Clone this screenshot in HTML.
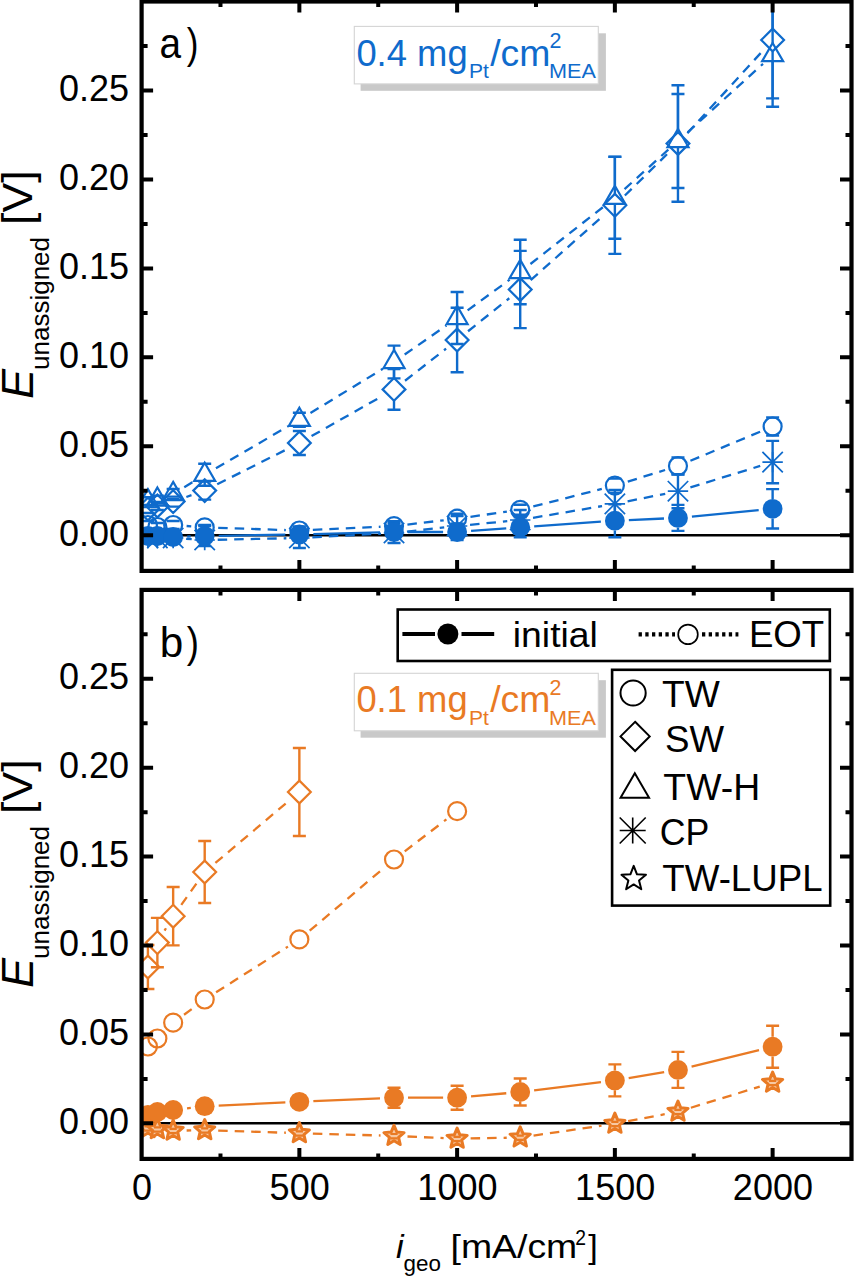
<!DOCTYPE html><html><head><meta charset="utf-8"><style>html,body{margin:0;padding:0;background:#fff;overflow:hidden;}svg{display:block;}text{font-family:"Liberation Sans",sans-serif;}.tl{font-size:36px;fill:#000;}</style></head><body>
<svg width="855" height="1280" viewBox="0 0 855 1280">
<rect width="855" height="1280" fill="#fff"/>
<g>
<clipPath id="ca"><rect x="141.6" y="1.5" width="709.9" height="569.4"/></clipPath>
<g clip-path="url(#ca)">
<path d="M141.6 535.31L851.5 535.31" stroke="#000" stroke-width="2.5"/>
<path d="M186.37 496.99L191.48 495.21M217.21 484.31L286.85 449.29M311.54 436.1L381.83 396.3M405.03 380.77L446.09 348.63M468.04 331.25L509.28 298.25M530.67 280.19L604.41 214.61M624.87 195.5L667.97 153.3M687.42 133.17L763.17 50.33" fill="none" stroke="#0f6bcc" stroke-width="2.3" stroke-dasharray="9.5 7"/>
<path d="M141.41 505L154.41 505M141.41 513L154.41 513" stroke="#0f6bcc" stroke-width="2.4" fill="none"/>
<path d="M150.88 502L163.88 502M150.88 510L163.88 510" stroke="#0f6bcc" stroke-width="2.4" fill="none"/>
<path d="M166.65 496.6L179.65 496.6M166.65 506.6L179.65 506.6" stroke="#0f6bcc" stroke-width="2.4" fill="none"/>
<path d="M198.2 481.6L211.2 481.6M198.2 499.6L211.2 499.6" stroke="#0f6bcc" stroke-width="2.4" fill="none"/>
<path d="M299.36 431L299.36 431.6M299.36 454.4L299.36 455M292.86 431L305.86 431M292.86 455L305.86 455" stroke="#0f6bcc" stroke-width="2.4" fill="none"/>
<path d="M394.01 369.1L394.01 378M394.01 400.8L394.01 409.7M387.51 369.1L400.51 369.1M387.51 409.7L400.51 409.7" stroke="#0f6bcc" stroke-width="2.4" fill="none"/>
<path d="M457.11 307.7L457.11 328.6M457.11 351.4L457.11 372.3M450.61 307.7L463.61 307.7M450.61 372.3L463.61 372.3" stroke="#0f6bcc" stroke-width="2.4" fill="none"/>
<path d="M520.21 250.9L520.21 278.1M520.21 300.9L520.21 328.1M513.71 250.9L526.71 250.9M513.71 328.1L526.71 328.1" stroke="#0f6bcc" stroke-width="2.4" fill="none"/>
<path d="M614.87 156.7L614.87 193.9M614.87 216.7L614.87 253.9M608.37 156.7L621.37 156.7M608.37 253.9L621.37 253.9" stroke="#0f6bcc" stroke-width="2.4" fill="none"/>
<path d="M677.97 85.2L677.97 132.1M677.97 154.9L677.97 201.8M671.47 85.2L684.47 85.2M671.47 201.8L684.47 201.8" stroke="#0f6bcc" stroke-width="2.4" fill="none"/>
<path d="M772.62 -26.8L772.62 28.6M772.62 51.4L772.62 106.8M766.12 -26.8L779.12 -26.8M766.12 106.8L779.12 106.8" stroke="#0f6bcc" stroke-width="2.4" fill="none"/>
<path d="M147.91 497.6L159.31 509L147.91 520.4L136.51 509Z" fill="none" stroke="#0f6bcc" stroke-width="2.2"/>
<path d="M157.38 494.6L168.78 506L157.38 517.4L145.98 506Z" fill="none" stroke="#0f6bcc" stroke-width="2.2"/>
<path d="M173.15 490.2L184.55 501.6L173.15 513L161.75 501.6Z" fill="none" stroke="#0f6bcc" stroke-width="2.2"/>
<path d="M204.7 479.2L216.1 490.6L204.7 502L193.3 490.6Z" fill="none" stroke="#0f6bcc" stroke-width="2.2"/>
<path d="M299.36 431.6L310.76 443L299.36 454.4L287.96 443Z" fill="none" stroke="#0f6bcc" stroke-width="2.2"/>
<path d="M394.01 378L405.41 389.4L394.01 400.8L382.61 389.4Z" fill="none" stroke="#0f6bcc" stroke-width="2.2"/>
<path d="M457.11 328.6L468.51 340L457.11 351.4L445.71 340Z" fill="none" stroke="#0f6bcc" stroke-width="2.2"/>
<path d="M520.21 278.1L531.61 289.5L520.21 300.9L508.81 289.5Z" fill="none" stroke="#0f6bcc" stroke-width="2.2"/>
<path d="M614.87 193.9L626.27 205.3L614.87 216.7L603.47 205.3Z" fill="none" stroke="#0f6bcc" stroke-width="2.2"/>
<path d="M677.97 132.1L689.37 143.5L677.97 154.9L666.57 143.5Z" fill="none" stroke="#0f6bcc" stroke-width="2.2"/>
<path d="M772.62 28.6L784.02 40L772.62 51.4L761.22 40Z" fill="none" stroke="#0f6bcc" stroke-width="2.2"/>
<path d="M184.26 487.24L193.6 481.56M215.94 468.27L288.12 426.33M310.45 413.02L382.91 368.78M404.67 354.56L446.45 325.44M467.62 310.34L509.71 279.66M530.44 263.98L604.64 205.82M624.53 189.1L668.31 149.7M687.6 132.26L763 63.84" fill="none" stroke="#0f6bcc" stroke-width="2.3" stroke-dasharray="9.5 7"/>
<path d="M141.41 497.2L154.41 497.2M141.41 505.2L154.41 505.2" stroke="#0f6bcc" stroke-width="2.4" fill="none"/>
<path d="M150.88 495.6L163.88 495.6M150.88 503.6L163.88 503.6" stroke="#0f6bcc" stroke-width="2.4" fill="none"/>
<path d="M166.65 489L179.65 489M166.65 499L179.65 499" stroke="#0f6bcc" stroke-width="2.4" fill="none"/>
<path d="M204.7 480.86L204.7 485.8M198.2 463.8L211.2 463.8M198.2 485.8L211.2 485.8" stroke="#0f6bcc" stroke-width="2.4" fill="none"/>
<path d="M299.36 425.86L299.36 426.8M292.86 412.8L305.86 412.8M292.86 426.8L305.86 426.8" stroke="#0f6bcc" stroke-width="2.4" fill="none"/>
<path d="M394.01 345.6L394.01 349.88M394.01 368.06L394.01 378.4M387.51 345.6L400.51 345.6M387.51 378.4L400.51 378.4" stroke="#0f6bcc" stroke-width="2.4" fill="none"/>
<path d="M457.11 292L457.11 305.88M457.11 324.06L457.11 344M450.61 292L463.61 292M450.61 344L463.61 344" stroke="#0f6bcc" stroke-width="2.4" fill="none"/>
<path d="M520.21 239.7L520.21 259.88M520.21 278.06L520.21 304.3M513.71 239.7L526.71 239.7M513.71 304.3L526.71 304.3" stroke="#0f6bcc" stroke-width="2.4" fill="none"/>
<path d="M614.87 156.9L614.87 185.68M614.87 203.86L614.87 238.7M608.37 156.9L621.37 156.9M608.37 238.7L621.37 238.7" stroke="#0f6bcc" stroke-width="2.4" fill="none"/>
<path d="M677.97 94L677.97 128.88M677.97 147.06L677.97 188M671.47 94L684.47 94M671.47 188L684.47 188" stroke="#0f6bcc" stroke-width="2.4" fill="none"/>
<path d="M772.62 -2.9L772.62 42.98M772.62 61.16L772.62 98.4M766.12 -2.9L779.12 -2.9M766.12 98.4L779.12 98.4" stroke="#0f6bcc" stroke-width="2.4" fill="none"/>
<path d="M147.91 489.08L158.41 507.26L137.41 507.26Z" fill="none" stroke="#0f6bcc" stroke-width="2.2"/>
<path d="M157.38 487.48L167.88 505.66L146.88 505.66Z" fill="none" stroke="#0f6bcc" stroke-width="2.2"/>
<path d="M173.15 481.88L183.65 500.06L162.65 500.06Z" fill="none" stroke="#0f6bcc" stroke-width="2.2"/>
<path d="M204.7 462.68L215.2 480.86L194.2 480.86Z" fill="none" stroke="#0f6bcc" stroke-width="2.2"/>
<path d="M299.36 407.68L309.86 425.86L288.86 425.86Z" fill="none" stroke="#0f6bcc" stroke-width="2.2"/>
<path d="M394.01 349.88L404.51 368.06L383.51 368.06Z" fill="none" stroke="#0f6bcc" stroke-width="2.2"/>
<path d="M457.11 305.88L467.61 324.06L446.61 324.06Z" fill="none" stroke="#0f6bcc" stroke-width="2.2"/>
<path d="M520.21 259.88L530.71 278.06L509.71 278.06Z" fill="none" stroke="#0f6bcc" stroke-width="2.2"/>
<path d="M614.87 185.68L625.37 203.86L604.37 203.86Z" fill="none" stroke="#0f6bcc" stroke-width="2.2"/>
<path d="M677.97 128.88L688.47 147.06L667.47 147.06Z" fill="none" stroke="#0f6bcc" stroke-width="2.2"/>
<path d="M772.62 42.98L783.12 61.16L762.12 61.16Z" fill="none" stroke="#0f6bcc" stroke-width="2.2"/>
<path d="M186.61 526.02L191.24 526.38M218.19 527.84L285.86 530.06M312.84 529.87L380.52 526.73M407.42 524.53L443.7 520.27M470.48 516.81L506.85 511.69M533.29 506.46L601.79 488.94M627.76 481.6L665.08 470M690.43 460.8L760.16 431.7" fill="none" stroke="#0f6bcc" stroke-width="2.3" stroke-dasharray="9.5 7"/>
<path d="M141.41 521L154.41 521M141.41 529L154.41 529" stroke="#0f6bcc" stroke-width="2.4" fill="none"/>
<path d="M150.88 523L163.88 523M150.88 531L163.88 531" stroke="#0f6bcc" stroke-width="2.4" fill="none"/>
<path d="M166.65 521L179.65 521M166.65 529L179.65 529" stroke="#0f6bcc" stroke-width="2.4" fill="none"/>
<path d="M198.2 524.9L211.2 524.9M198.2 529.9L211.2 529.9" stroke="#0f6bcc" stroke-width="2.4" fill="none"/>
<path d="M292.86 526.5L305.86 526.5M292.86 534.5L305.86 534.5" stroke="#0f6bcc" stroke-width="2.4" fill="none"/>
<path d="M387.51 521.1L400.51 521.1M387.51 531.1L400.51 531.1" stroke="#0f6bcc" stroke-width="2.4" fill="none"/>
<path d="M450.61 513.7L463.61 513.7M450.61 523.7L463.61 523.7" stroke="#0f6bcc" stroke-width="2.4" fill="none"/>
<path d="M513.71 504.8L526.71 504.8M513.71 514.8L526.71 514.8" stroke="#0f6bcc" stroke-width="2.4" fill="none"/>
<path d="M608.37 478.6L621.37 478.6M608.37 492.6L621.37 492.6" stroke="#0f6bcc" stroke-width="2.4" fill="none"/>
<path d="M671.47 457.5L684.47 457.5M671.47 474.5L684.47 474.5" stroke="#0f6bcc" stroke-width="2.4" fill="none"/>
<path d="M766.12 417.5L779.12 417.5M766.12 435.5L779.12 435.5" stroke="#0f6bcc" stroke-width="2.4" fill="none"/>
<circle cx="147.91" cy="525" r="9" fill="none" stroke="#0f6bcc" stroke-width="2.2"/>
<circle cx="157.38" cy="527" r="9" fill="none" stroke="#0f6bcc" stroke-width="2.2"/>
<circle cx="173.15" cy="525" r="9" fill="none" stroke="#0f6bcc" stroke-width="2.2"/>
<circle cx="204.7" cy="527.4" r="9" fill="none" stroke="#0f6bcc" stroke-width="2.2"/>
<circle cx="299.36" cy="530.5" r="9" fill="none" stroke="#0f6bcc" stroke-width="2.2"/>
<circle cx="394.01" cy="526.1" r="9" fill="none" stroke="#0f6bcc" stroke-width="2.2"/>
<circle cx="457.11" cy="518.7" r="9" fill="none" stroke="#0f6bcc" stroke-width="2.2"/>
<circle cx="520.21" cy="509.8" r="9" fill="none" stroke="#0f6bcc" stroke-width="2.2"/>
<circle cx="614.87" cy="485.6" r="9" fill="none" stroke="#0f6bcc" stroke-width="2.2"/>
<circle cx="677.97" cy="466" r="9" fill="none" stroke="#0f6bcc" stroke-width="2.2"/>
<circle cx="772.62" cy="426.5" r="9" fill="none" stroke="#0f6bcc" stroke-width="2.2"/>
<path d="M186.13 538.82L191.73 539.18M217.7 539.73L286.36 538.27M312.34 537.31L381.03 533.69M406.93 531.57L444.19 527.43M470.05 524.77L507.27 521.23M533.03 517.82L602.05 506.08M627.61 501.34L665.22 493.76M690.39 487.38L760.2 465.92" fill="none" stroke="#0f6bcc" stroke-width="2.3" stroke-dasharray="9.5 7"/>
<path d="M147.91 535L147.91 538M147.91 538L147.91 541M141.41 535L154.41 535M141.41 541L154.41 541" stroke="#0f6bcc" stroke-width="2.4" fill="none"/>
<path d="M157.38 535L157.38 538M157.38 538L157.38 541M150.88 535L163.88 535M150.88 541L163.88 541" stroke="#0f6bcc" stroke-width="2.4" fill="none"/>
<path d="M173.15 535L173.15 538M173.15 538L173.15 541M166.65 535L179.65 535M166.65 541L179.65 541" stroke="#0f6bcc" stroke-width="2.4" fill="none"/>
<path d="M204.7 526L204.7 540M204.7 540L204.7 546M198.2 526L211.2 526M198.2 546L211.2 546" stroke="#0f6bcc" stroke-width="2.4" fill="none"/>
<path d="M299.36 528L299.36 538M299.36 538L299.36 548M292.86 528L305.86 528M292.86 548L305.86 548" stroke="#0f6bcc" stroke-width="2.4" fill="none"/>
<path d="M394.01 523L394.01 533M394.01 533L394.01 543M387.51 523L400.51 523M387.51 543L400.51 543" stroke="#0f6bcc" stroke-width="2.4" fill="none"/>
<path d="M457.11 516L457.11 526M457.11 526L457.11 536M450.61 516L463.61 516M450.61 536L463.61 536" stroke="#0f6bcc" stroke-width="2.4" fill="none"/>
<path d="M520.21 510L520.21 520M520.21 520L520.21 530M513.71 510L526.71 510M513.71 530L526.71 530" stroke="#0f6bcc" stroke-width="2.4" fill="none"/>
<path d="M614.87 489.9L614.87 503.9M614.87 503.9L614.87 517.9M608.37 489.9L621.37 489.9M608.37 517.9L621.37 517.9" stroke="#0f6bcc" stroke-width="2.4" fill="none"/>
<path d="M677.97 474.2L677.97 491.2M677.97 491.2L677.97 508.2M671.47 474.2L684.47 474.2M671.47 508.2L684.47 508.2" stroke="#0f6bcc" stroke-width="2.4" fill="none"/>
<path d="M772.62 440.9L772.62 462.1M772.62 462.1L772.62 483.3M766.12 440.9L779.12 440.9M766.12 483.3L779.12 483.3" stroke="#0f6bcc" stroke-width="2.4" fill="none"/>
<path d="M137.71 538L158.11 538M147.91 527.8L147.91 548.2M137.71 527.8L158.11 548.2M137.71 548.2L158.11 527.8" fill="none" stroke="#0f6bcc" stroke-width="1.7"/>
<path d="M147.18 538L167.58 538M157.38 527.8L157.38 548.2M147.18 527.8L167.58 548.2M147.18 548.2L167.58 527.8" fill="none" stroke="#0f6bcc" stroke-width="1.7"/>
<path d="M162.95 538L183.35 538M173.15 527.8L173.15 548.2M162.95 527.8L183.35 548.2M162.95 548.2L183.35 527.8" fill="none" stroke="#0f6bcc" stroke-width="1.7"/>
<path d="M194.5 540L214.9 540M204.7 529.8L204.7 550.2M194.5 529.8L214.9 550.2M194.5 550.2L214.9 529.8" fill="none" stroke="#0f6bcc" stroke-width="1.7"/>
<path d="M289.16 538L309.56 538M299.36 527.8L299.36 548.2M289.16 527.8L309.56 548.2M289.16 548.2L309.56 527.8" fill="none" stroke="#0f6bcc" stroke-width="1.7"/>
<path d="M383.81 533L404.21 533M394.01 522.8L394.01 543.2M383.81 522.8L404.21 543.2M383.81 543.2L404.21 522.8" fill="none" stroke="#0f6bcc" stroke-width="1.7"/>
<path d="M446.91 526L467.31 526M457.11 515.8L457.11 536.2M446.91 515.8L467.31 536.2M446.91 536.2L467.31 515.8" fill="none" stroke="#0f6bcc" stroke-width="1.7"/>
<path d="M510.01 520L530.41 520M520.21 509.8L520.21 530.2M510.01 509.8L530.41 530.2M510.01 530.2L530.41 509.8" fill="none" stroke="#0f6bcc" stroke-width="1.7"/>
<path d="M604.67 503.9L625.07 503.9M614.87 493.7L614.87 514.1M604.67 493.7L625.07 514.1M604.67 514.1L625.07 493.7" fill="none" stroke="#0f6bcc" stroke-width="1.7"/>
<path d="M667.77 491.2L688.17 491.2M677.97 481L677.97 501.4M667.77 481L688.17 501.4M667.77 501.4L688.17 481" fill="none" stroke="#0f6bcc" stroke-width="1.7"/>
<path d="M762.42 462.1L782.82 462.1M772.62 451.9L772.62 472.3M762.42 451.9L782.82 472.3M762.42 472.3L782.82 451.9" fill="none" stroke="#0f6bcc" stroke-width="1.7"/>
<path d="M187.14 536.56L190.71 536.44M218.7 535.78L285.36 534.72M313.35 534.13L380.01 532.37M408.01 532L443.11 532M471.07 530.96L506.25 528.34M534.18 526.33L600.9 521.67M628.85 520.08L663.98 518.52M691.9 516.56L758.69 510.14" fill="none" stroke="#0f6bcc" stroke-width="2.3"/>
<path d="M141.41 533L154.41 533M141.41 539L154.41 539" stroke="#0f6bcc" stroke-width="2.4" fill="none"/>
<path d="M150.88 533L163.88 533M150.88 539L163.88 539" stroke="#0f6bcc" stroke-width="2.4" fill="none"/>
<path d="M166.65 534L179.65 534M166.65 540L179.65 540" stroke="#0f6bcc" stroke-width="2.4" fill="none"/>
<path d="M198.2 532L211.2 532M198.2 540L211.2 540" stroke="#0f6bcc" stroke-width="2.4" fill="none"/>
<path d="M292.86 529.5L305.86 529.5M292.86 539.5L305.86 539.5" stroke="#0f6bcc" stroke-width="2.4" fill="none"/>
<path d="M387.51 526L400.51 526M387.51 538L400.51 538" stroke="#0f6bcc" stroke-width="2.4" fill="none"/>
<path d="M450.61 524L463.61 524M450.61 540L463.61 540" stroke="#0f6bcc" stroke-width="2.4" fill="none"/>
<path d="M520.21 517.3L520.21 517.4M520.21 537.2L520.21 537.3M513.71 517.3L526.71 517.3M513.71 537.3L526.71 537.3" stroke="#0f6bcc" stroke-width="2.4" fill="none"/>
<path d="M614.87 504.2L614.87 510.8M614.87 530.6L614.87 537.2M608.37 504.2L621.37 504.2M608.37 537.2L621.37 537.2" stroke="#0f6bcc" stroke-width="2.4" fill="none"/>
<path d="M677.97 504.9L677.97 508M677.97 527.8L677.97 530.9M671.47 504.9L684.47 504.9M671.47 530.9L684.47 530.9" stroke="#0f6bcc" stroke-width="2.4" fill="none"/>
<path d="M772.62 489.1L772.62 498.9M772.62 518.7L772.62 528.5M766.12 489.1L779.12 489.1M766.12 528.5L779.12 528.5" stroke="#0f6bcc" stroke-width="2.4" fill="none"/>
<circle cx="147.91" cy="536" r="9.9" fill="#0f6bcc"/>
<circle cx="157.38" cy="536" r="9.9" fill="#0f6bcc"/>
<circle cx="173.15" cy="537" r="9.9" fill="#0f6bcc"/>
<circle cx="204.7" cy="536" r="9.9" fill="#0f6bcc"/>
<circle cx="299.36" cy="534.5" r="9.9" fill="#0f6bcc"/>
<circle cx="394.01" cy="532" r="9.9" fill="#0f6bcc"/>
<circle cx="457.11" cy="532" r="9.9" fill="#0f6bcc"/>
<circle cx="520.21" cy="527.3" r="9.9" fill="#0f6bcc"/>
<circle cx="614.87" cy="520.7" r="9.9" fill="#0f6bcc"/>
<circle cx="677.97" cy="517.9" r="9.9" fill="#0f6bcc"/>
<circle cx="772.62" cy="508.8" r="9.9" fill="#0f6bcc"/>
</g>
<path d="M220.48 570.9L220.48 565.4M220.48 1.5L220.48 7M299.36 570.9L299.36 559.9M299.36 1.5L299.36 12.5M378.23 570.9L378.23 565.4M378.23 1.5L378.23 7M457.11 570.9L457.11 559.9M457.11 1.5L457.11 12.5M535.99 570.9L535.99 565.4M535.99 1.5L535.99 7M614.87 570.9L614.87 559.9M614.87 1.5L614.87 12.5M693.74 570.9L693.74 565.4M693.74 1.5L693.74 7M772.62 570.9L772.62 559.9M772.62 1.5L772.62 12.5M141.6 535.31L153.1 535.31M851.5 535.31L840 535.31M141.6 490.83L147.6 490.83M851.5 490.83L845.5 490.83M141.6 446.34L153.1 446.34M851.5 446.34L840 446.34M141.6 401.86L147.6 401.86M851.5 401.86L845.5 401.86M141.6 357.37L153.1 357.37M851.5 357.37L840 357.37M141.6 312.89L147.6 312.89M851.5 312.89L845.5 312.89M141.6 268.41L153.1 268.41M851.5 268.41L840 268.41M141.6 223.92L147.6 223.92M851.5 223.92L845.5 223.92M141.6 179.44L153.1 179.44M851.5 179.44L840 179.44M141.6 134.95L147.6 134.95M851.5 134.95L845.5 134.95M141.6 90.47L153.1 90.47M851.5 90.47L840 90.47M141.6 45.98L147.6 45.98M851.5 45.98L845.5 45.98" stroke="#000" stroke-width="4" fill="none"/>
<rect x="141.6" y="1.5" width="709.9" height="569.4" fill="none" stroke="#000" stroke-width="4.2"/>
<text x="129" y="545.91" text-anchor="end" class="tl">0.00</text>
<text x="129" y="456.94" text-anchor="end" class="tl">0.05</text>
<text x="129" y="367.97" text-anchor="end" class="tl">0.10</text>
<text x="129" y="279.01" text-anchor="end" class="tl">0.15</text>
<text x="129" y="190.04" text-anchor="end" class="tl">0.20</text>
<text x="129" y="101.07" text-anchor="end" class="tl">0.25</text>
</g>
<clipPath id="cb"><rect x="141.6" y="589.9" width="709.9" height="569"/></clipPath>
<g clip-path="url(#cb)">
<path d="M141.6 1123.34L851.5 1123.34" stroke="#000" stroke-width="2.5"/>
<path d="M164.56 930.58L165.97 928.22M181.28 904.81L196.57 883.39M215.39 862.96L288.66 801.04" fill="none" stroke="#e97a24" stroke-width="2.3" stroke-dasharray="9.5 7"/>
<path d="M147.91 945L147.91 955.6M147.91 978.4L147.91 989M141.41 945L154.41 945M141.41 989L154.41 989" stroke="#e97a24" stroke-width="2.4" fill="none"/>
<path d="M157.38 917.9L157.38 931.2M157.38 954L157.38 967.3M150.88 917.9L163.88 917.9M150.88 967.3L163.88 967.3" stroke="#e97a24" stroke-width="2.4" fill="none"/>
<path d="M173.15 887L173.15 904.8M173.15 927.6L173.15 945.4M166.65 887L179.65 887M166.65 945.4L179.65 945.4" stroke="#e97a24" stroke-width="2.4" fill="none"/>
<path d="M204.7 841L204.7 860.6M204.7 883.4L204.7 903M198.2 841L211.2 841M198.2 903L211.2 903" stroke="#e97a24" stroke-width="2.4" fill="none"/>
<path d="M299.36 748L299.36 780.6M299.36 803.4L299.36 836M292.86 748L305.86 748M292.86 836L305.86 836" stroke="#e97a24" stroke-width="2.4" fill="none"/>
<path d="M147.91 955.6L159.31 967L147.91 978.4L136.51 967Z" fill="none" stroke="#e97a24" stroke-width="2.2"/>
<path d="M157.38 931.2L168.78 942.6L157.38 954L145.98 942.6Z" fill="none" stroke="#e97a24" stroke-width="2.2"/>
<path d="M173.15 904.8L184.55 916.2L173.15 927.6L161.75 916.2Z" fill="none" stroke="#e97a24" stroke-width="2.2"/>
<path d="M204.7 860.6L216.1 872L204.7 883.4L193.3 872Z" fill="none" stroke="#e97a24" stroke-width="2.2"/>
<path d="M299.36 780.6L310.76 792L299.36 803.4L287.96 792Z" fill="none" stroke="#e97a24" stroke-width="2.2"/>
<path d="M184.03 1014.7L193.83 1007.5M216.1 992.26L287.96 946.64M309.67 930.69L383.69 868.21M404.73 851.29L446.39 819.41" fill="none" stroke="#e97a24" stroke-width="2.3" stroke-dasharray="9.5 7"/>







<circle cx="147.91" cy="1046.5" r="9" fill="none" stroke="#e97a24" stroke-width="2.2"/>
<circle cx="157.38" cy="1038.5" r="9" fill="none" stroke="#e97a24" stroke-width="2.2"/>
<circle cx="173.15" cy="1022.7" r="9" fill="none" stroke="#e97a24" stroke-width="2.2"/>
<circle cx="204.7" cy="999.5" r="9" fill="none" stroke="#e97a24" stroke-width="2.2"/>
<circle cx="299.36" cy="939.4" r="9" fill="none" stroke="#e97a24" stroke-width="2.2"/>
<circle cx="394.01" cy="859.5" r="9" fill="none" stroke="#e97a24" stroke-width="2.2"/>
<circle cx="457.11" cy="811.2" r="9" fill="none" stroke="#e97a24" stroke-width="2.2"/>
<path d="M186.65 1130.49L191.2 1130.41M218.2 1130.63L285.86 1132.77M312.85 1133.58L380.51 1135.52M407.5 1136.5L443.62 1138.1M470.61 1138.44L506.72 1137.76M533.57 1135.55L601.51 1125.65M628.13 1121.18L664.71 1114.22M690.88 1107.75L759.71 1086.65" fill="none" stroke="#e97a24" stroke-width="2.3" stroke-dasharray="9.5 7"/>











<path d="M147.91 1117.6L150.73 1124.32L157.99 1124.92L152.48 1129.68L154.14 1136.78L147.91 1133L141.68 1136.78L143.35 1129.68L137.83 1124.92L145.09 1124.32Z" fill="#f7c8a2" stroke="#e97a24" stroke-width="3.0" stroke-linejoin="round"/>
<path d="M144.31 1126.3H151.51M144.31 1130.6H151.51" stroke="#e97a24" stroke-width="2.2"/>
<path d="M157.38 1118.6L160.2 1125.32L167.46 1125.92L161.94 1130.68L163.61 1137.78L157.38 1134L151.15 1137.78L152.81 1130.68L147.29 1125.92L154.55 1125.32Z" fill="#f7c8a2" stroke="#e97a24" stroke-width="3.0" stroke-linejoin="round"/>
<path d="M153.78 1127.3H160.98M153.78 1131.6H160.98" stroke="#e97a24" stroke-width="2.2"/>
<path d="M173.15 1120.1L175.97 1126.82L183.23 1127.42L177.72 1132.18L179.38 1139.28L173.15 1135.5L166.92 1139.28L168.59 1132.18L163.07 1127.42L170.33 1126.82Z" fill="#f7c8a2" stroke="#e97a24" stroke-width="3.0" stroke-linejoin="round"/>
<path d="M169.55 1128.8H176.75M169.55 1133.1H176.75" stroke="#e97a24" stroke-width="2.2"/>
<path d="M204.7 1119.6L207.52 1126.32L214.78 1126.92L209.27 1131.68L210.93 1138.78L204.7 1135L198.47 1138.78L200.14 1131.68L194.62 1126.92L201.88 1126.32Z" fill="#f7c8a2" stroke="#e97a24" stroke-width="3.0" stroke-linejoin="round"/>
<path d="M201.1 1128.3H208.3M201.1 1132.6H208.3" stroke="#e97a24" stroke-width="2.2"/>
<path d="M299.36 1122.6L302.18 1129.32L309.44 1129.92L303.92 1134.68L305.59 1141.78L299.36 1138L293.13 1141.78L294.79 1134.68L289.27 1129.92L296.53 1129.32Z" fill="#f7c8a2" stroke="#e97a24" stroke-width="3.0" stroke-linejoin="round"/>
<path d="M295.76 1131.3H302.96M295.76 1135.6H302.96" stroke="#e97a24" stroke-width="2.2"/>
<path d="M394.01 1125.3L396.83 1132.02L404.09 1132.62L398.57 1137.38L400.24 1144.48L394.01 1140.7L387.78 1144.48L389.44 1137.38L383.93 1132.62L391.19 1132.02Z" fill="#f7c8a2" stroke="#e97a24" stroke-width="3.0" stroke-linejoin="round"/>
<path d="M390.41 1134H397.61M390.41 1138.3H397.61" stroke="#e97a24" stroke-width="2.2"/>
<path d="M457.11 1128.1L459.93 1134.82L467.19 1135.42L461.68 1140.18L463.34 1147.28L457.11 1143.5L450.88 1147.28L452.55 1140.18L447.03 1135.42L454.29 1134.82Z" fill="#f7c8a2" stroke="#e97a24" stroke-width="3.0" stroke-linejoin="round"/>
<path d="M453.51 1136.8H460.71M453.51 1141.1H460.71" stroke="#e97a24" stroke-width="2.2"/>
<path d="M520.21 1126.9L523.03 1133.62L530.29 1134.22L524.78 1138.98L526.44 1146.08L520.21 1142.3L513.98 1146.08L515.65 1138.98L510.13 1134.22L517.39 1133.62Z" fill="#f7c8a2" stroke="#e97a24" stroke-width="3.0" stroke-linejoin="round"/>
<path d="M516.61 1135.6H523.81M516.61 1139.9H523.81" stroke="#e97a24" stroke-width="2.2"/>
<path d="M614.87 1113.1L617.69 1119.82L624.95 1120.42L619.43 1125.18L621.1 1132.28L614.87 1128.5L608.64 1132.28L610.3 1125.18L604.79 1120.42L612.05 1119.82Z" fill="#f7c8a2" stroke="#e97a24" stroke-width="3.0" stroke-linejoin="round"/>
<path d="M611.27 1121.8H618.47M611.27 1126.1H618.47" stroke="#e97a24" stroke-width="2.2"/>
<path d="M677.97 1101.1L680.79 1107.82L688.05 1108.42L682.53 1113.18L684.2 1120.28L677.97 1116.5L671.74 1120.28L673.4 1113.18L667.89 1108.42L675.15 1107.82Z" fill="#f7c8a2" stroke="#e97a24" stroke-width="3.0" stroke-linejoin="round"/>
<path d="M674.37 1109.8H681.57M674.37 1114.1H681.57" stroke="#e97a24" stroke-width="2.2"/>
<path d="M772.62 1072.1L775.44 1078.82L782.7 1079.42L777.19 1084.18L778.85 1091.28L772.62 1087.5L766.39 1091.28L768.06 1084.18L762.54 1079.42L769.8 1078.82Z" fill="#f7c8a2" stroke="#e97a24" stroke-width="3.0" stroke-linejoin="round"/>
<path d="M769.02 1080.8H776.22M769.02 1085.1H776.22" stroke="#e97a24" stroke-width="2.2"/>
<path d="M187.05 1108.33L190.8 1107.87M218.69 1105.55L285.37 1102.45M313.34 1101.19L380.02 1098.31M408.01 1097.7L443.11 1097.7M471.05 1096.44L506.27 1093.26M534.11 1090.3L600.97 1082.1M628.68 1078.1L664.16 1072.2M691.57 1066.57L759.02 1050.03" fill="none" stroke="#e97a24" stroke-width="2.3"/>
<path d="M141.41 1111L154.41 1111M141.41 1119L154.41 1119" stroke="#e97a24" stroke-width="2.4" fill="none"/>
<path d="M150.88 1108L163.88 1108M150.88 1116L163.88 1116" stroke="#e97a24" stroke-width="2.4" fill="none"/>
<path d="M166.65 1106L179.65 1106M166.65 1114L179.65 1114" stroke="#e97a24" stroke-width="2.4" fill="none"/>
<path d="M198.2 1101.2L211.2 1101.2M198.2 1111.2L211.2 1111.2" stroke="#e97a24" stroke-width="2.4" fill="none"/>
<path d="M292.86 1095.8L305.86 1095.8M292.86 1107.8L305.86 1107.8" stroke="#e97a24" stroke-width="2.4" fill="none"/>
<path d="M394.01 1087.7L394.01 1087.8M394.01 1107.6L394.01 1107.7M387.51 1087.7L400.51 1087.7M387.51 1107.7L400.51 1107.7" stroke="#e97a24" stroke-width="2.4" fill="none"/>
<path d="M457.11 1085.7L457.11 1087.8M457.11 1107.6L457.11 1109.7M450.61 1085.7L463.61 1085.7M450.61 1109.7L463.61 1109.7" stroke="#e97a24" stroke-width="2.4" fill="none"/>
<path d="M520.21 1078.5L520.21 1082.1M520.21 1101.9L520.21 1105.5M513.71 1078.5L526.71 1078.5M513.71 1105.5L526.71 1105.5" stroke="#e97a24" stroke-width="2.4" fill="none"/>
<path d="M614.87 1064.4L614.87 1070.5M614.87 1090.3L614.87 1096.4M608.37 1064.4L621.37 1064.4M608.37 1096.4L621.37 1096.4" stroke="#e97a24" stroke-width="2.4" fill="none"/>
<path d="M677.97 1051.9L677.97 1060M677.97 1079.8L677.97 1087.9M671.47 1051.9L684.47 1051.9M671.47 1087.9L684.47 1087.9" stroke="#e97a24" stroke-width="2.4" fill="none"/>
<path d="M772.62 1025.7L772.62 1036.8M772.62 1056.6L772.62 1067.7M766.12 1025.7L779.12 1025.7M766.12 1067.7L779.12 1067.7" stroke="#e97a24" stroke-width="2.4" fill="none"/>
<circle cx="147.91" cy="1115" r="9.9" fill="#e97a24"/>
<circle cx="157.38" cy="1112" r="9.9" fill="#e97a24"/>
<circle cx="173.15" cy="1110" r="9.9" fill="#e97a24"/>
<circle cx="204.7" cy="1106.2" r="9.9" fill="#e97a24"/>
<circle cx="299.36" cy="1101.8" r="9.9" fill="#e97a24"/>
<circle cx="394.01" cy="1097.7" r="9.9" fill="#e97a24"/>
<circle cx="457.11" cy="1097.7" r="9.9" fill="#e97a24"/>
<circle cx="520.21" cy="1092" r="9.9" fill="#e97a24"/>
<circle cx="614.87" cy="1080.4" r="9.9" fill="#e97a24"/>
<circle cx="677.97" cy="1069.9" r="9.9" fill="#e97a24"/>
<circle cx="772.62" cy="1046.7" r="9.9" fill="#e97a24"/>
</g>
<path d="M220.48 1158.9L220.48 1153.4M220.48 589.9L220.48 595.4M299.36 1158.9L299.36 1147.9M299.36 589.9L299.36 600.9M378.23 1158.9L378.23 1153.4M378.23 589.9L378.23 595.4M457.11 1158.9L457.11 1147.9M457.11 589.9L457.11 600.9M535.99 1158.9L535.99 1153.4M535.99 589.9L535.99 595.4M614.87 1158.9L614.87 1147.9M614.87 589.9L614.87 600.9M693.74 1158.9L693.74 1153.4M693.74 589.9L693.74 595.4M772.62 1158.9L772.62 1147.9M772.62 589.9L772.62 600.9M141.6 1123.34L153.1 1123.34M851.5 1123.34L840 1123.34M141.6 1078.88L147.6 1078.88M851.5 1078.88L845.5 1078.88M141.6 1034.43L153.1 1034.43M851.5 1034.43L840 1034.43M141.6 989.98L147.6 989.98M851.5 989.98L845.5 989.98M141.6 945.52L153.1 945.52M851.5 945.52L840 945.52M141.6 901.07L147.6 901.07M851.5 901.07L845.5 901.07M141.6 856.62L153.1 856.62M851.5 856.62L840 856.62M141.6 812.17L147.6 812.17M851.5 812.17L845.5 812.17M141.6 767.71L153.1 767.71M851.5 767.71L840 767.71M141.6 723.26L147.6 723.26M851.5 723.26L845.5 723.26M141.6 678.81L153.1 678.81M851.5 678.81L840 678.81M141.6 634.35L147.6 634.35M851.5 634.35L845.5 634.35" stroke="#000" stroke-width="4" fill="none"/>
<rect x="141.6" y="589.9" width="709.9" height="569" fill="none" stroke="#000" stroke-width="4.2"/>
<text x="129" y="1133.94" text-anchor="end" class="tl">0.00</text>
<text x="129" y="1045.03" text-anchor="end" class="tl">0.05</text>
<text x="129" y="956.12" text-anchor="end" class="tl">0.10</text>
<text x="129" y="867.22" text-anchor="end" class="tl">0.15</text>
<text x="129" y="778.31" text-anchor="end" class="tl">0.20</text>
<text x="129" y="689.41" text-anchor="end" class="tl">0.25</text>
<text x="141.9" y="1200.1" text-anchor="middle" class="tl">0</text>
<text x="299.66" y="1200.1" text-anchor="middle" class="tl">500</text>
<text x="457.41" y="1200.1" text-anchor="middle" class="tl">1000</text>
<text x="615.17" y="1200.1" text-anchor="middle" class="tl">1500</text>
<text x="772.92" y="1200.1" text-anchor="middle" class="tl">2000</text>
<text transform="translate(159.45 57.5) scale(0.9224 1)" style="font-size:42px">a</text>
<text transform="translate(186.69 57.5) scale(0.8351 1)" style="font-size:42px">)</text>
<text transform="translate(159.68 657) scale(1.0059 1)" style="font-size:42px">b</text>
<text transform="translate(186.69 657) scale(0.8711 1)" style="font-size:42px">)</text>
<rect x="360.6" y="33.3" width="245.3" height="57.5" fill="#c9c9c9"/>
<rect x="354.3" y="26.4" width="244" height="57.5" fill="#fff" stroke="#d4d4d4" stroke-width="1.1"/>
<text transform="translate(356.38 65.5) scale(0.9837 1)" style="font-size:37px" fill="#0f6bcc">0.4 mg</text>
<text x="468.97" y="78.3" style="font-size:21px" fill="#0f6bcc">Pt</text>
<text transform="translate(490.2 65.5) scale(1.0094 1)" style="font-size:37px" fill="#0f6bcc">/cm</text>
<text transform="translate(549.62 47.6) scale(0.9778 1)" style="font-size:22px" fill="#0f6bcc">2</text>
<text transform="translate(549.03 78.3) scale(1.0287 1)" style="font-size:21px" fill="#0f6bcc">MEA</text>
<rect x="360.6" y="680.2" width="245.3" height="57.5" fill="#c9c9c9"/>
<rect x="354.3" y="673.3" width="244" height="57.5" fill="#fff" stroke="#d4d4d4" stroke-width="1.1"/>
<text transform="translate(356.38 712.4) scale(0.9837 1)" style="font-size:37px" fill="#e97a24">0.1 mg</text>
<text x="468.97" y="725.2" style="font-size:21px" fill="#e97a24">Pt</text>
<text transform="translate(490.2 712.4) scale(1.0094 1)" style="font-size:37px" fill="#e97a24">/cm</text>
<text transform="translate(549.62 694.5) scale(0.9778 1)" style="font-size:22px" fill="#e97a24">2</text>
<text transform="translate(549.03 725.2) scale(1.0287 1)" style="font-size:21px" fill="#e97a24">MEA</text>
<rect x="397.7" y="609.5" width="432.1" height="51.5" fill="#fff" stroke="#000" stroke-width="2.6"/>
<path d="M402.4 634H435M461.5 634H494.2" stroke="#000" stroke-width="4"/>
<circle cx="447.9" cy="634" r="10.5" fill="#000"/>
<text transform="translate(512.8 646.8) scale(1.0373 1)" style="font-size:36px">initial</text>
<path d="M638.6 634.4H675M702 634.4H738.4" stroke="#000" stroke-width="4.3" stroke-dasharray="3.3 3.4"/>
<circle cx="688" cy="634.4" r="9.8" fill="#fff" stroke="#000" stroke-width="1.7"/>
<text transform="translate(748.89 646.5) scale(0.9774 1)" style="font-size:37.5px">EOT</text>
<rect x="612.1" y="669.8" width="218.1" height="235.8" fill="#fff" stroke="#000" stroke-width="2.6"/>
<circle cx="633.1" cy="693" r="12.6" fill="none" stroke="#000" stroke-width="2"/>
<path d="M635.1 721.8L649.7 736.4L635.1 751L620.5 736.4Z" fill="none" stroke="#000" stroke-width="2.0"/>
<path d="M634.8 773.15L649.05 797.83L620.55 797.83Z" fill="none" stroke="#000" stroke-width="2.0"/>
<path d="M619.7 830.5L645.7 830.5M632.7 817.5L632.7 843.5M619.7 817.5L645.7 843.5M619.7 843.5L645.7 817.5" fill="none" stroke="#000" stroke-width="1.6"/>
<path d="M633.7 865.9L636.99 874.27L645.97 874.81L639.03 880.53L641.28 889.24L633.7 884.4L626.12 889.24L628.37 880.53L621.43 874.81L630.41 874.27Z" fill="none" stroke="#000" stroke-width="2.0" stroke-linejoin="round"/>
<text transform="translate(662.07 707) scale(1.0041 1)" style="font-size:37px">TW</text>
<text transform="translate(664.93 752.3) scale(0.9914 1)" style="font-size:37px">SW</text>
<text transform="translate(663.36 799.5) scale(1.0106 1)" style="font-size:37px">TW-H</text>
<text transform="translate(659.69 845) scale(0.9649 1)" style="font-size:37px">CP</text>
<text transform="translate(662.28 891.3) scale(0.9916 1)" style="font-size:37px">TW-LUPL</text>
<text transform="translate(396.04 1257.8) scale(1.0168 1)" style="font-size:34px;font-style:italic">i</text>
<text transform="translate(403.56 1270.5) scale(1.0184 1)" style="font-size:22px">geo</text>
<text transform="translate(450.53 1257.6) scale(1.1000 1)" style="font-size:34px">[mA/cm</text>
<text transform="translate(575.33 1244.6) scale(0.8780 1)" style="font-size:22px">2</text>
<text transform="translate(588.33 1257.6) scale(1.0064 1)" style="font-size:34px">]</text>
<text transform="translate(33 398.89) rotate(-90) scale(1.0018 1)" style="font-size:45px;font-style:italic">E</text>
<text transform="translate(49 369.99) rotate(-90) scale(1.0405 1)" style="font-size:25px">unassigned</text>
<text transform="translate(32.4 224.98) rotate(-90) scale(1.0625 1)" style="font-size:42px">[V]</text>
<text transform="translate(33 987.89) rotate(-90) scale(1.0018 1)" style="font-size:45px;font-style:italic">E</text>
<text transform="translate(49 958.99) rotate(-90) scale(1.0405 1)" style="font-size:25px">unassigned</text>
<text transform="translate(32.4 813.98) rotate(-90) scale(1.0625 1)" style="font-size:42px">[V]</text>
</svg></body></html>
